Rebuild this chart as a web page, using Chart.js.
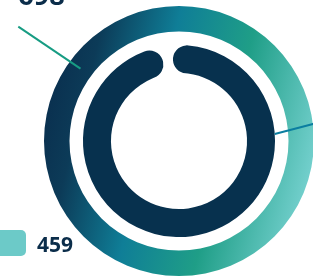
<!DOCTYPE html>
<html>
<head>
<meta charset="utf-8">
<script src="https://cdn.jsdelivr.net/npm/chart.js@4/dist/chart.umd.min.js"></script>
<style>
  html, body { margin: 0; padding: 0; background: #fff; overflow: hidden; }
  body { width: 313px; height: 277px; position: relative; }
  #wrap { position: absolute; left: 0; top: 0; width: 360px; height: 300px; }
</style>
</head>
<body>
<div id="wrap"><canvas id="ringChart" width="360" height="300"></canvas></div>
<script>
// values
const outerValues = [698];
const innerValues = [98, 2];          // filled part, gap at the top
const outerLabel = '698';
const legendLabel = '459';

const NAVY = '#07314e';
const TEXT = '#0b2d4a';

document.addEventListener("DOMContentLoaded", () => {
    const ctx = document.getElementById("ringChart");
    if (!ctx) return;

    const outerGradient = (c) => {
        const chart = c.chart;
        const a = chart.chartArea;
        if (!a) return '#0f7e97';
        const cx = (a.left + a.right) / 2;
        const cy = (a.top + a.bottom) / 2;
        const r = Math.min(a.width, a.height) / 2;
        const ang = 14 * Math.PI / 180;
        const ux = Math.cos(ang), uy = Math.sin(ang);
        const g = chart.ctx.createLinearGradient(cx - r * ux, cy - r * uy, cx + r * ux, cy + r * uy);
        g.addColorStop(0, '#0a3150');
        g.addColorStop(0.12, '#0c3b58');
        g.addColorStop(0.39, '#0f7e97');
        g.addColorStop(0.67, '#1f9e87');
        g.addColorStop(1, '#72cfcc');
        return g;
    };

    const annotations = {
        id: 'annotations',
        afterDraw(chart) {
            const g = chart.ctx;
            const outer = chart.getDatasetMeta(0).data[0];
            const inner = chart.getDatasetMeta(2).data[0];
            const cx = outer.x, cy = outer.y;

            // leader to the outer ring
            let a = -143.7 * Math.PI / 180;
            const rMid = (outer.innerRadius + outer.outerRadius) / 2;
            const x1 = cx + Math.cos(a) * rMid, y1 = cy + Math.sin(a) * rMid;
            const la = -146 * Math.PI / 180;
            const x2 = x1 + Math.cos(la) * 75, y2 = y1 + Math.sin(la) * 75;
            g.save();
            g.lineWidth = 2;
            g.strokeStyle = '#179c83';
            g.beginPath(); g.moveTo(x1, y1); g.lineTo(x2, y2); g.stroke();

            g.fillStyle = TEXT;
            g.font = 'bold 27px "Open Sans"';
            g.textAlign = 'left';
            g.textBaseline = 'alphabetic';
            g.fillText(outerLabel, x2, y2 - 22);

            // leader to the inner ring
            a = -4.2 * Math.PI / 180;
            const x3 = cx + Math.cos(a) * inner.outerRadius, y3 = cy + Math.sin(a) * inner.outerRadius;
            const lb = -14.7 * Math.PI / 180;
            g.strokeStyle = '#0b7ea0';
            g.beginPath(); g.moveTo(x3, y3); g.lineTo(x3 + Math.cos(lb) * 80, y3 + Math.sin(lb) * 80); g.stroke();

            // legend item
            g.fillStyle = '#6ccac8';
            g.beginPath();
            g.roundRect(-8, 230, 34, 26, 5);
            g.fill();
            g.fillStyle = TEXT;
            g.font = 'bold 21px "Open Sans"';
            g.fillText(legendLabel, 37, 252);
            g.restore();
        }
    };

    new Chart(ctx, {
        type: 'doughnut',
        data: {
            datasets: [{
                data: outerValues,
                backgroundColor: outerGradient,
                weight: 25.5
            }, {
                data: [1],
                backgroundColor: 'rgba(0,0,0,0)',
                weight: 13.5
            }, {
                data: innerValues,
                backgroundColor: [NAVY, 'rgba(0,0,0,0)'],
                borderRadius: 14,
                rotation: -4.2,
                weight: 28
            }]
        },
        options: {
            responsive: false,
            animation: false,
            events: [],
            devicePixelRatio: 1,
            cutout: '50.4%',
            borderWidth: 0,
            hoverBorderWidth: 0,
            hoverOffset: 0,
            offset: 0,
            layout: { padding: { left: 44, top: 6, right: 46, bottom: 24 } },
            plugins: {
                legend: { display: false },
                tooltip: { enabled: false }
            }
        },
        plugins: [annotations]
    });
});
</script>
</body>
</html>
